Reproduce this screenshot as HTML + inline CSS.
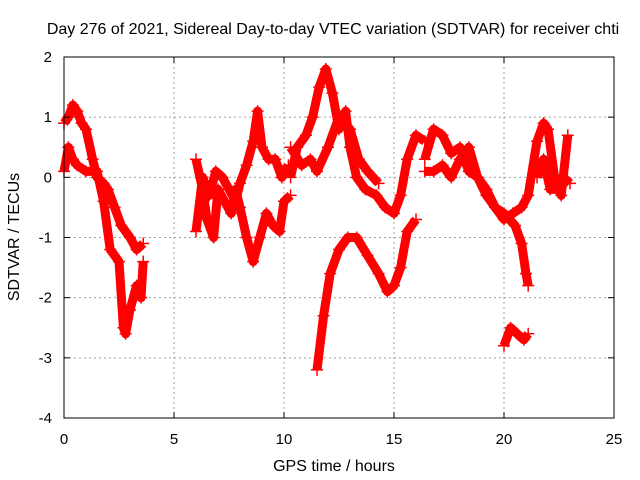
<!DOCTYPE html>
<html><head><meta charset="utf-8"><style>
html,body{margin:0;padding:0;background:#fff;}
svg{display:block;font-family:"Liberation Sans",sans-serif;}
</style></head><body>
<svg id="chart" width="640" height="480" xmlns="http://www.w3.org/2000/svg">
<text x="333" y="34" font-size="16" text-anchor="middle">Day 276 of 2021, Sidereal Day-to-day VTEC variation (SDTVAR) for receiver chti</text>
<text x="334" y="471" font-size="16" text-anchor="middle">GPS time / hours</text>
<text x="19" y="237" font-size="16" text-anchor="middle" transform="rotate(-90 19 237)">SDTVAR / TECUs</text>
<g id="grid"></g><g id="marks"></g><g id="axes"></g>
</svg>
<script>
const xTicks=[0,5,10,15,20,25];
const yTicks=[-4,-3,-2,-1,0,1,2];
const trackAx=[0,0.2,0.4,0.6,0.8,1.0,1.3,1.5,1.8,2.0,2.3,2.6,3.0,3.3,3.6];
const trackAy=[0.9,1.0,1.2,1.1,0.9,0.8,0.3,0.0,-0.1,-0.2,-0.5,-0.8,-1.0,-1.2,-1.1];
const trackBx=[0,0.2,0.4,0.6,1.0,1.5,1.8,2.1,2.5,2.7,2.8,3.0,3.3,3.5,3.6];
const trackBy=[0.1,0.5,0.3,0.2,0.1,0.1,-0.4,-1.2,-1.4,-2.5,-2.6,-2.2,-1.8,-2.0,-1.4];
const trackCx=[6.0,6.3,6.5,6.8,7.0,7.3,7.6,7.8,8.0,8.3,8.6,8.9,9.2,9.5,9.8,10.0,10.3];
const trackCy=[0.3,-0.2,-0.7,-1.0,-0.2,-0.4,-0.6,-0.2,-0.5,-1.0,-1.4,-1.0,-0.6,-0.8,-0.9,-0.4,-0.3];
const trackDx=[6.0,6.3,6.6,6.9,7.2,7.5,7.8,8.0,8.3,8.6,8.8,9.0,9.3,9.6,9.9,10.2];
const trackDy=[-0.9,0.0,-0.3,0.1,0.0,-0.2,-0.4,-0.1,0.2,0.6,1.1,0.5,0.3,0.3,0.0,0.2];
const trackEx=[10.3,10.6,11.0,11.3,11.6,11.9,12.2,12.5,12.8,13.0,13.3,13.7,14.2,14.6,15.0,15.3,15.6,16.0,16.4];
const trackEy=[0.0,0.5,0.7,1.0,1.5,1.8,1.4,0.8,1.1,0.5,0.0,-0.2,-0.3,-0.5,-0.6,-0.3,0.3,0.7,0.6];
const trackFx=[10.3,10.8,11.2,11.5,12.0,12.5,13.0,13.4,13.8,14.3];
const trackFy=[0.5,0.2,0.3,0.1,0.5,1.0,0.8,0.3,0.1,-0.1];
const trackGx=[11.5,11.8,12.1,12.5,12.9,13.3,13.8,14.3,14.7,15.0,15.3,15.6,16.0];
const trackGy=[-3.2,-2.3,-1.6,-1.2,-1.0,-1.0,-1.3,-1.6,-1.9,-1.8,-1.5,-0.9,-0.7];
const trackHx=[16.4,16.8,17.2,17.6,18.0,18.4,18.8,19.2,19.6,20.0,20.4,20.8,21.1,21.5,21.8,22.0,22.3,22.6,22.9];
const trackHy=[0.3,0.8,0.7,0.4,0.5,0.1,0.0,-0.2,-0.5,-0.7,-0.6,-0.5,-0.3,0.6,0.9,0.8,0.0,-0.3,0.7];
const trackIx=[16.4,16.8,17.2,17.6,18.0,18.4,18.8,19.2,19.6,20.0,20.5,20.8,21.0,21.1];
const trackIy=[0.1,0.1,0.2,0.0,0.3,0.5,0.0,-0.3,-0.5,-0.6,-0.8,-1.1,-1.6,-1.8];
const trackJx=[21.5,21.8,22.1,22.4,22.7,23.0];
const trackJy=[0.0,0.3,-0.2,-0.2,0.0,-0.1];
const trackKx=[20.0,20.3,20.6,20.9,21.1];
const trackKy=[-2.8,-2.5,-2.6,-2.7,-2.6];

const L=64,R=614,T=57,B=418;
const xs=v=>L+(v-0)/(25-0)*(R-L);
const ys=v=>B-(v+4)/(6)*(B-T);
const NS='http://www.w3.org/2000/svg';
function mk(tag,parent){const e=document.createElementNS(NS,tag);parent.appendChild(e);return e;}
const grid=document.getElementById('grid'),axes=document.getElementById('axes'),marks=document.getElementById('marks');

xTicks.forEach(t=>{
  if(t>0&&t<25){const g=mk('line',grid);
  
  
  g.setAttribute('x1',xs(t));g.setAttribute('x2',xs(t));g.setAttribute('y1',T);g.setAttribute('y2',B);
  g.setAttribute('stroke','#a0a0a0');g.setAttribute('stroke-dasharray','2,3');}
  const tk=mk('text',axes);
  
  
  tk.setAttribute('x',xs(t));tk.setAttribute('y',444);tk.setAttribute('font-size','15');tk.setAttribute('text-anchor','middle');tk.textContent=t;
  [[B,B-6],[T,T+6]].forEach(p=>{const m=mk('line',axes);
  
  
  m.setAttribute('x1',xs(t));m.setAttribute('x2',xs(t));m.setAttribute('y1',p[0]);m.setAttribute('y2',p[1]);m.setAttribute('stroke','#000');});
});
yTicks.forEach(t=>{
  if(t>-4&&t<2){const g=mk('line',grid);
  
  
  g.setAttribute('x1',L);g.setAttribute('x2',R);g.setAttribute('y1',ys(t));g.setAttribute('y2',ys(t));
  g.setAttribute('stroke','#a0a0a0');g.setAttribute('stroke-dasharray','2,3');}
  const tk=mk('text',axes);
  
  
  tk.setAttribute('x',52);tk.setAttribute('y',ys(t)+5);tk.setAttribute('font-size','15');tk.setAttribute('text-anchor','end');tk.textContent=t;
  [[L,L+6],[R,R-6]].forEach(p=>{const m=mk('line',axes);
  
  
  m.setAttribute('x1',p[0]);m.setAttribute('x2',p[1]);m.setAttribute('y1',ys(t));m.setAttribute('y2',ys(t));m.setAttribute('stroke','#000');});
});
const box=mk('rect',axes);


box.setAttribute('x',L);box.setAttribute('y',T);box.setAttribute('width',R-L);box.setAttribute('height',B-T);
box.setAttribute('fill','none');box.setAttribute('stroke','#000');

const tracks=[[trackAx,trackAy],[trackBx,trackBy],[trackCx,trackCy],[trackDx,trackDy],[trackEx,trackEy],[trackFx,trackFy],[trackGx,trackGy],[trackHx,trackHy],[trackIx,trackIy],[trackJx,trackJy],[trackKx,trackKy]];
tracks.forEach(tr=>{
  const pl=mk('polyline',marks);
  
  
  pl.setAttribute('points',tr[0].map((x,i)=>xs(x)+','+ys(tr[1][i])).join(' '));
  pl.setAttribute('fill','none');pl.setAttribute('stroke','#f00');pl.setAttribute('stroke-width','9');pl.setAttribute('stroke-linejoin','round');
  tr[0].forEach((x,i)=>{
    const p=mk('path',marks);
    
    
    const cx=xs(x),cy=ys(tr[1][i]);
    p.setAttribute('d',`M${cx-6},${cy}H${cx+6}M${cx},${cy-6}V${cy+6}`);
    p.setAttribute('stroke','#f00');p.setAttribute('stroke-width','1.5');
  });
});
</script>
</body></html>
